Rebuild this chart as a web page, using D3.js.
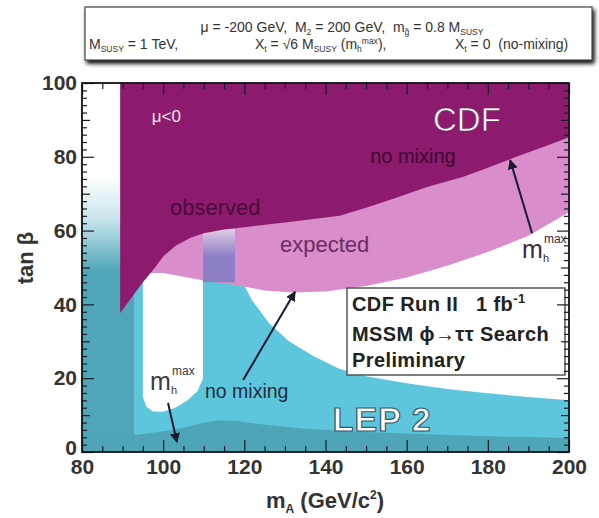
<!DOCTYPE html>
<html><head><meta charset="utf-8">
<script src="https://cdn.jsdelivr.net/npm/d3@7"></script>
<style>
body{margin:0;background:#fff;}
svg{display:block;font-family:"Liberation Sans",Arial,Helvetica,sans-serif;}
</style></head>
<body>
<svg id="c" width="599" height="518"></svg>
<script>
// ---------- data ----------
const xTicks = [80,100,120,140,160,180,200];
const yTicks = [0,20,40,60,80,100];
// CDF observed exclusion (lower edge), region above is excluded
const observedEdge = [[89.4,37.7],[92,41.5],[95,46],[98,50],[100,53],[103,55.8],[106.6,58],[110,59.3],[115,60.3],[120.6,61],[130,62.2],[143.5,64],[150,66.2],[157.6,69],[165,71.8],[173.8,74.5],[180,77],[187,80],[195,83.2],[200,85.3]];
// CDF expected exclusion lower edge
const expectedEdge = [[96,48.5],[100,48.5],[105,47.5],[110,46.5],[118,45.2],[125,43.8],[132,43.2],[140,43.5],[150,45],[160,47.3],[170,50.5],[180,54.2],[190,58.6],[200,65]];
// LEP 2 no-mixing exclusion upper edge
const lepNoMixEdge = [[93,48],[109.8,48],[109.8,60.5],[117.7,60.5],[118.3,52],[119.5,46],[122,41],[126,35],[131,30],[137,26],[143.5,22.5],[150,20.5],[160,18.6],[170,17.1],[180,15.9],[190,14.9],[200,14]];
// allowed hole in LEP no-mixing region
const lepHoleEdge = [[95,50],[95,15],[95.8,12.3],[97.5,11],[100,10.9],[103,12],[106,14],[108.5,16.5],[109.8,20],[109.8,50]];
// LEP 2 m_h^max exclusion upper edge
const lepMaxEdge = [[80,5],[92,4.5],[96,5],[100,5.6],[105,6.6],[110,8],[114,8.6],[118,8.4],[125,7.4],[135,6.3],[145,5.6],[160,5],[180,4.3],[200,3.8]];
const lepMaxStrip = [80,93];       // mA range of low-mass LEP strip
const lepColumn = [109.8,117.7];   // mA range of LEP column inside expected band
const lepColumnTop = 60.5;

// ---------- setup ----------
const svg = d3.select("#c");
const x = d3.scaleLinear().domain([80,200]).range([82,569]);
const y = d3.scaleLinear().domain([0,100]).range([452,83]);
const line = d3.line().x(d=>x(d[0])).y(d=>y(d[1]));
const NB = s => s.replace(/ /g,"\u00a0");

const defs = svg.append("defs");
defs.append("clipPath").attr("id","clip").append("rect")
  .attr("x",x(80)).attr("y",y(100)).attr("width",x(200)-x(80)).attr("height",y(0)-y(100));
const g1 = defs.append("linearGradient").attr("id","stripGrad").attr("gradientUnits","userSpaceOnUse")
  .attr("x1",0).attr("x2",0).attr("y1",y(75)).attr("y2",y(49));
g1.append("stop").attr("offset",0).attr("stop-color","#ffffff");
g1.append("stop").attr("offset",0.45).attr("stop-color","#c9e6ec");
g1.append("stop").attr("offset",1).attr("stop-color","#4fa6b8");
const g2 = defs.append("linearGradient").attr("id","colGrad").attr("gradientUnits","userSpaceOnUse")
  .attr("x1",0).attr("x2",0).attr("y1",y(lepColumnTop)).attr("y2",y(53));
g2.append("stop").attr("offset",0).attr("stop-color","#e2cce6");
g2.append("stop").attr("offset",1).attr("stop-color","#8c7fc4");
const sh = defs.append("filter").attr("id","shadow").attr("x","-5%").attr("y","-20%").attr("width","110%").attr("height","160%");
sh.append("feGaussianBlur").attr("in","SourceAlpha").attr("stdDeviation",2);
sh.append("feOffset").attr("dx",2).attr("dy",3).attr("result","b");
const fm = sh.append("feMerge"); fm.append("feMergeNode").attr("in","b"); fm.append("feMergeNode").attr("in","SourceGraphic");

const plot = svg.append("g").attr("clip-path","url(#clip)");

// left strip
plot.append("rect").attr("x",x(lepMaxStrip[0])).attr("width",x(lepMaxStrip[1])-x(lepMaxStrip[0]))
  .attr("y",y(100)).attr("height",y(0)-y(100)).attr("fill","url(#stripGrad)");
// LEP no mixing (light teal)
plot.append("path").attr("d",line([...lepNoMixEdge,[200,0],[93,0]])+"Z").attr("fill","#5ec6dc");
// hole
plot.append("path").attr("d",line(lepHoleEdge)+"Z").attr("fill","#ffffff");
// LEP mhmax bottom band
plot.append("path").attr("d",line([...lepMaxEdge,[200,0],[80,0]])+"Z").attr("fill","#4ea5b7");
// expected
plot.append("path").attr("d",line([...expectedEdge,[200,100],[96,100]])+"Z").attr("fill","#d98dcb");
// column overlap
plot.append("rect").attr("x",x(lepColumn[0])).attr("width",x(lepColumn[1])-x(lepColumn[0]))
  .attr("y",y(lepColumnTop)).attr("height",y(46)-y(lepColumnTop)).attr("fill","url(#colGrad)");
// observed
plot.append("path").attr("d",line([[89.4,100],...observedEdge,[200,100]])+"Z").attr("fill","#8c1b6d");

// ---------- labels inside ----------
const T = (px,py,txt,size,fill,weight)=>svg.append("text").attr("x",x(px)).attr("y",y(py))
  .attr("font-size",size).attr("fill",fill).attr("font-weight",weight||"normal").text(txt);
T(97.2,89.4,"μ<0",17,"#f3e3ef");
T(166.5,87,"CDF",33,"#ffffff").attr("stroke","#6a1656").attr("stroke-width",0.6);
T(101.7,64.2,"observed",22,"#4a0a3e");
T(128.8,54.2,"expected",22,"#6a2c62");
T(151,78.3,"no mixing",20,"#3d0535");
T(110.3,14.6,"no mixing",19.5,"#1e2d40");
T(141.8,5.6,"LEP 2",34,"#ffffff","bold").attr("stroke","#2f5a6e").attr("stroke-width",1.2).attr("letter-spacing",1);

function mhmax(px,py,col){
  svg.append("text").attr("x",x(px)).attr("y",y(py)).attr("fill",col).attr("font-size",25).text("m");
  const bx = x(px)+22;
  svg.append("text").attr("x",bx).attr("y",y(py)-15).attr("font-size",12).attr("fill",col).text("max");
  svg.append("text").attr("x",bx-1).attr("y",y(py)+4).attr("font-size",11).attr("fill",col).text("h");
}
mhmax(188.4,52.6,"#3b2a3a");
mhmax(96.75,16.8,"#3b3b40");

// arrows
defs.append("marker").attr("id","ah").attr("viewBox","0 0 10 10").attr("refX",9).attr("refY",5)
  .attr("markerWidth",5).attr("markerHeight",5).attr("orient","auto")
  .append("path").attr("d","M0,0L10,5L0,10Z").attr("fill","#1a1a30");
const arrows = [[[190.9,59.3],[185.5,79.1]],[[119.7,19.5],[132.5,43.4]],[[101.2,13.3],[103.4,2.7]]];
arrows.forEach(a=>svg.append("line").attr("x1",x(a[0][0])).attr("y1",y(a[0][1])).attr("x2",x(a[1][0])).attr("y2",y(a[1][1]))
  .attr("stroke","#1a1a30").attr("stroke-width",2).attr("marker-end","url(#ah)"));

// CDF box
const bx0 = 347, by0 = 288;
svg.append("rect").attr("x",bx0).attr("y",by0).attr("width",218).attr("height",87)
  .attr("fill","#fff").attr("stroke","#555").attr("stroke-width",1.5);
const bt = (yy,fn)=>{const t=svg.append("text").attr("x",bx0+5).attr("y",yy).attr("font-size",20).attr("font-weight","bold").attr("fill","#222").attr("letter-spacing",0.4); fn(t);};
bt(311,t=>{t.append("tspan").text(NB("CDF Run II   1 fb")); t.append("tspan").attr("dy",-8).attr("font-size",13).text("-1");});
bt(341,t=>t.text("MSSM ϕ→ττ Search"));
bt(367,t=>t.text("Preliminary"));

// ---------- axes ----------
const ax = svg.append("g");
function addAxis(gen, tr, vals, size, labels){
  const a = gen.tickValues(vals).tickSize(-size).tickPadding(labels?5:0);
  if(!labels) a.tickFormat("");
  const gg = ax.append("g").attr("transform",tr).call(a);
  gg.select(".domain").remove();
  gg.selectAll("line").attr("stroke","#1a1a2a").attr("stroke-width",1.2);
  return gg;
}
const yl = addAxis(d3.axisLeft(y),`translate(${x(80)},0)`,yTicks,12,true);
yl.selectAll("text").attr("font-size",21).attr("font-weight","bold").attr("fill","#333").attr("font-family","Liberation Sans, Arial, sans-serif")
  .attr("dy",d=>d===0?"0.1em":"0.32em");
addAxis(d3.axisLeft(y),`translate(${x(80)},0)`,d3.range(10,100,20),8,false);
addAxis(d3.axisLeft(y),`translate(${x(80)},0)`,d3.range(0,101,2).filter(v=>v%10),5,false);
addAxis(d3.axisRight(y),`translate(${x(200)},0)`,yTicks,12,false);
addAxis(d3.axisRight(y),`translate(${x(200)},0)`,d3.range(10,100,20),8,false);
addAxis(d3.axisRight(y),`translate(${x(200)},0)`,d3.range(0,101,2).filter(v=>v%10),5,false);
const xl = addAxis(d3.axisBottom(x),`translate(0,${y(0)})`,xTicks,12,true);
xl.selectAll("text").attr("font-size",21).attr("font-weight","bold").attr("fill","#333").attr("font-family","Liberation Sans, Arial, sans-serif").attr("y",7);
addAxis(d3.axisBottom(x),`translate(0,${y(0)})`,d3.range(85,200,5).filter(v=>v%20),6,false);
addAxis(d3.axisTop(x),`translate(0,${y(100)})`,xTicks,12,false);
addAxis(d3.axisTop(x),`translate(0,${y(100)})`,d3.range(85,200,5).filter(v=>v%20),6,false);
svg.append("rect").attr("x",x(80)).attr("y",y(100)).attr("width",x(200)-x(80)).attr("height",y(0)-y(100))
  .attr("fill","none").attr("stroke","#111").attr("stroke-width",1.8);

// axis titles
svg.append("text").attr("transform","translate(33,258) rotate(-90)").attr("text-anchor","middle")
  .attr("font-size",22).attr("font-weight","bold").attr("fill","#333").text("tan β");
const xt = svg.append("text").attr("x",325).attr("y",508).attr("text-anchor","middle")
  .attr("font-size",22).attr("font-weight","bold").attr("fill","#333");
xt.append("tspan").text("m");
xt.append("tspan").attr("dy",5).attr("font-size",12).text("A");
xt.append("tspan").attr("dy",-5).text(NB(" (GeV/c"));
xt.append("tspan").attr("dy",-9).attr("font-size",12).text("2");
xt.append("tspan").attr("dy",9).text(")");

// ---------- top parameter box ----------
svg.append("rect").attr("x",85).attr("y",7).attr("width",507).attr("height",53)
  .attr("fill","#fff").attr("stroke","#444").attr("stroke-width",1.2).attr("filter","url(#shadow)");
function rich(xx,yy,parts,anchor){
  const t = svg.append("text").attr("x",xx).attr("y",yy).attr("font-size",14).attr("fill","#333").attr("text-anchor",anchor||"start");
  let cur=0;
  parts.forEach(p=>{
    const s = t.append("tspan").text(NB(p[0]));
    const target = p[1]==="sub"?3:p[1]==="sup"?-5:0;
    if(target!==cur){s.attr("dy",target-cur); cur=target;}
    if(p[1]) s.attr("font-size",8.5);
  });
  return t;
}
rich(342,32,[["μ = -200 GeV,  M"],["2","sub"],[" = 200 GeV,  m"],["g̃","sub"],[" = 0.8 M"],["SUSY","sub"]],"middle");
rich(89,49,[["M"],["SUSY","sub"],[" = 1 TeV,"]]);
rich(255,49,[["X"],["t","sub"],[" = √6 M"],["SUSY","sub"],[" (m"],["h","sub"],["max","sup"],["),"]]);
rich(455,49,[["X"],["t","sub"],[" = 0  (no-mixing)"]]);
</script>
</body></html>
